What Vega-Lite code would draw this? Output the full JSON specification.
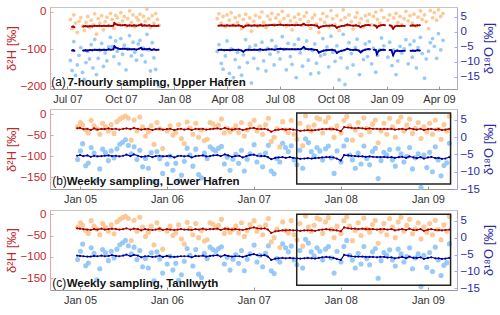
{
"$schema":"https://vega.github.io/schema/vega-lite/v6.json",
"padding":{"left":4,"top":5,"right":4,"bottom":0},
"spacing":2,
"config":{"view":{"stroke":"#c4c4c4"},"axis":{"grid":false,"labelFont":"Liberation Sans","titleFont":"Liberation Sans","titleFontWeight":"normal"},"text":{"font":"Liberation Sans"}},
"datasets":{
"ra":[
{"d":"2007-07-06","h":-20,"o":-9.5},{"d":"2007-07-09","h":-45,"o":-12.8},{"d":"2007-07-12","h":-8,"o":-3.2},{"d":"2007-07-15","h":-30,"o":-14.5},{"d":"2007-07-18","h":-55,"o":-11.0},{"d":"2007-07-21","h":-25,"o":-7.8},{"d":"2007-07-24","h":-15,"o":-5.2},{"d":"2007-07-27","h":-38,"o":-13.5},{"d":"2007-07-30","h":-50,"o":-15.8},{"d":"2007-08-02","h":-28,"o":-10.2},{"d":"2007-08-05","h":-12,"o":-6.5},{"d":"2007-08-08","h":-42,"o":-9.0},{"d":"2007-08-11","h":-22,"o":-4.2},{"d":"2007-08-14","h":-35,"o":-12.0},{"d":"2007-08-17","h":-5,"o":-2.5},{"d":"2007-08-20","h":-60,"o":-14.2},{"d":"2007-08-23","h":-18,"o":-8.8},{"d":"2007-08-26","h":-30,"o":-6.2},{"d":"2007-08-29","h":-10,"o":-3.8},{"d":"2007-09-01","h":-48,"o":-11.5},{"d":"2007-09-04","h":-26,"o":-7.0},{"d":"2007-09-07","h":-14,"o":-9.6},{"d":"2007-09-10","h":-36,"o":-5.0},{"d":"2007-09-13","h":-4,"o":-1.8},{"d":"2007-09-16","h":-20,"o":-4.8},{"d":"2007-09-19","h":-44,"o":-8.2},{"d":"2007-09-22","h":-9,"o":-3.0},{"d":"2007-09-25","h":-16,"o":-6.4},{"d":"2007-09-28","h":-32,"o":-10.6},{"d":"2007-10-01","h":-2,"o":-2.2},{"d":"2007-10-04","h":-24,"o":-7.4},{"d":"2007-10-07","h":-12,"o":-4.4},{"d":"2007-10-10","h":-38,"o":-12.6},{"d":"2007-10-13","h":-18,"o":-5.6},{"d":"2007-10-16","h":3,"o":-1.2},{"d":"2007-10-19","h":-28,"o":-8.0},{"d":"2007-10-22","h":-8,"o":-3.4},{"d":"2007-10-25","h":-40,"o":-6.8},{"d":"2007-10-28","h":-15,"o":-9.4},{"d":"2007-10-31","h":-22,"o":-4.0},{"d":"2007-11-03","h":-6,"o":-2.8},{"d":"2007-11-06","h":-34,"o":-7.8},{"d":"2007-11-09","h":-12,"o":-5.4},{"d":"2007-11-12","h":-25,"o":-10.0},{"d":"2007-11-15","h":8,"o":-0.8},{"d":"2007-11-18","h":-18,"o":-6.0},{"d":"2007-11-21","h":-42,"o":-13.0},{"d":"2007-11-24","h":-10,"o":-3.6},{"d":"2007-11-27","h":-30,"o":-8.6},{"d":"2007-11-30","h":-4,"o":-12.5},{"d":"2007-12-03","h":-20,"o":-16.8},{"d":"2007-12-06","h":-36,"o":-18.0},
{"d":"2008-03-15","h":-18,"o":-6.5},{"d":"2008-03-18","h":-5,"o":-4.2},{"d":"2008-03-22","h":-30,"o":-10.5},{"d":"2008-03-25","h":-12,"o":-12.4},{"d":"2008-03-29","h":-40,"o":-8.0},{"d":"2008-04-01","h":-8,"o":-3.0},{"d":"2008-04-05","h":-22,"o":-13.8},{"d":"2008-04-08","h":-2,"o":-5.6},{"d":"2008-04-12","h":-35,"o":-15.2},{"d":"2008-04-15","h":-15,"o":-9.2},{"d":"2008-04-19","h":-28,"o":-6.8},{"d":"2008-04-22","h":-10,"o":-11.8},{"d":"2008-04-26","h":-45,"o":-14.4},{"d":"2008-04-29","h":-20,"o":-7.6},{"d":"2008-05-03","h":-6,"o":-2.6},{"d":"2008-05-06","h":-32,"o":-10.2},{"d":"2008-05-10","h":-16,"o":-5.0},{"d":"2008-05-13","h":-52,"o":-17.0},{"d":"2008-05-17","h":-25,"o":-8.8},{"d":"2008-05-20","h":-9,"o":-4.4},{"d":"2008-05-24","h":-38,"o":-12.2},{"d":"2008-05-27","h":-14,"o":-6.2},{"d":"2008-05-31","h":0,"o":-3.4},{"d":"2008-06-03","h":-28,"o":-9.6},{"d":"2008-06-07","h":-42,"o":-13.0},{"d":"2008-06-10","h":-11,"o":-5.4},{"d":"2008-06-14","h":-20,"o":-7.4},{"d":"2008-06-17","h":-4,"o":-2.8},{"d":"2008-06-21","h":-34,"o":-11.0},{"d":"2008-06-24","h":-16,"o":-4.8},{"d":"2008-06-28","h":-7,"o":-6.6},{"d":"2008-07-01","h":-26,"o":-9.0},{"d":"2008-07-05","h":2,"o":-1.6},{"d":"2008-07-08","h":-18,"o":-5.8},{"d":"2008-07-12","h":-38,"o":-12.6},{"d":"2008-07-15","h":-10,"o":-3.8},{"d":"2008-07-19","h":-24,"o":-8.2},{"d":"2008-07-22","h":-48,"o":-10.8},{"d":"2008-07-26","h":-14,"o":-4.2},{"d":"2008-07-29","h":-30,"o":-15.2},{"d":"2008-08-02","h":-6,"o":-2.4},{"d":"2008-08-05","h":-20,"o":-7.0},{"d":"2008-08-09","h":-36,"o":-11.4},{"d":"2008-08-12","h":-12,"o":-5.6},{"d":"2008-08-16","h":-2,"o":-3.0},{"d":"2008-08-19","h":-26,"o":-9.4},{"d":"2008-08-23","h":-44,"o":-14.0},{"d":"2008-08-26","h":-16,"o":-6.2},{"d":"2008-08-30","h":-8,"o":-4.0},{"d":"2008-09-02","h":-32,"o":-10.4},{"d":"2008-09-06","h":-55,"o":-13.6},{"d":"2008-09-09","h":-20,"o":-8.0},{"d":"2008-09-13","h":-4,"o":-2.2},{"d":"2008-09-16","h":-28,"o":-7.4},{"d":"2008-09-20","h":-12,"o":-5.0},{"d":"2008-09-23","h":-40,"o":-11.6},{"d":"2008-09-27","h":4,"o":-1.4},{"d":"2008-09-30","h":-18,"o":-6.8},{"d":"2008-10-04","h":-34,"o":-9.8},{"d":"2008-10-07","h":-10,"o":-4.6},{"d":"2008-10-11","h":-50,"o":-16.0},{"d":"2008-10-14","h":-22,"o":-8.6},{"d":"2008-10-18","h":6,"o":-0.8},{"d":"2008-10-21","h":-15,"o":-17.5},{"d":"2008-10-25","h":-36,"o":-12.0},{"d":"2008-10-28","h":-8,"o":-3.6},{"d":"2008-11-01","h":-26,"o":-7.2},{"d":"2008-11-04","h":-46,"o":-11.0},{"d":"2008-11-08","h":-14,"o":-5.2},{"d":"2008-11-11","h":-2,"o":-2.4},{"d":"2008-11-15","h":-30,"o":-14.2},{"d":"2008-11-18","h":-18,"o":-6.6},{"d":"2008-11-22","h":-40,"o":-9.2},{"d":"2008-11-25","h":-10,"o":-4.0},{"d":"2008-11-29","h":-24,"o":-8.2},{"d":"2008-12-02","h":-6,"o":-3.2},{"d":"2008-12-06","h":-35,"o":-10.6},{"d":"2008-12-09","h":-12,"o":-5.4},{"d":"2008-12-13","h":0,"o":-13.4},{"d":"2008-12-16","h":-20,"o":-7.8},{"d":"2008-12-20","h":-30,"o":-6.0},{"d":"2008-12-23","h":5,"o":-2.0},{"d":"2008-12-27","h":-15,"o":-4.6},{"d":"2009-01-03","h":-22,"o":-8.4},{"d":"2009-01-06","h":-8,"o":-3.4},{"d":"2009-01-10","h":-40,"o":-11.2},{"d":"2009-01-13","h":-16,"o":-6.0},{"d":"2009-01-17","h":-4,"o":-14.2},{"d":"2009-01-20","h":-28,"o":-9.6},{"d":"2009-01-24","h":-12,"o":-4.8},{"d":"2009-01-27","h":-34,"o":-7.0},{"d":"2009-01-31","h":-18,"o":-5.6},{"d":"2009-02-03","h":2,"o":-2.6},{"d":"2009-02-07","h":-24,"o":-10.6},{"d":"2009-02-10","h":-10,"o":-4.2},{"d":"2009-02-14","h":-30,"o":-8.4},{"d":"2009-02-17","h":-6,"o":-3.0},{"d":"2009-02-21","h":-38,"o":-12.0},{"d":"2009-02-24","h":-14,"o":-5.2},{"d":"2009-02-28","h":3,"o":-1.8},{"d":"2009-03-03","h":-20,"o":-7.2},{"d":"2009-03-07","h":-8,"o":-15.4},{"d":"2009-03-10","h":-26,"o":-9.0},{"d":"2009-03-14","h":-45,"o":-6.4},{"d":"2009-03-17","h":4,"o":-3.6},{"d":"2009-03-21","h":-16,"o":-2.2},{"d":"2009-03-24","h":-2,"o":-4.8},{"d":"2009-03-28","h":-22,"o":-8.8},{"d":"2009-03-31","h":6,"o":-0.6},{"d":"2009-04-04","h":-12,"o":-6.0},{"d":"2009-04-08","h":-4,"o":-2.8}
],
"la":[
{"d":"2007-07-09","h":-40,"o":-6.2,"s":0},{"d":"2007-07-11","h":-39,"o":-6.1,"s":0},{"d":"2007-07-13","h":-41,"o":-6.3,"s":0},
{"d":"2007-07-28","h":-39,"o":-6.2,"s":1},{"d":"2007-08-01","h":-38,"o":-6.1,"s":1},{"d":"2007-08-05","h":-39,"o":-6.2,"s":1},{"d":"2007-08-09","h":-38,"o":-6.0,"s":1},{"d":"2007-08-13","h":-39,"o":-6.1,"s":1},{"d":"2007-08-17","h":-37,"o":-5.9,"s":1},{"d":"2007-08-21","h":-38,"o":-6.0,"s":1},{"d":"2007-08-25","h":-37,"o":-5.9,"s":1},{"d":"2007-08-29","h":-38,"o":-6.0,"s":1},{"d":"2007-09-02","h":-37,"o":-5.9,"s":1},{"d":"2007-09-06","h":-38,"o":-6.0,"s":1},{"d":"2007-09-10","h":-37,"o":-5.8,"s":1},{"d":"2007-09-14","h":-38,"o":-5.9,"s":1},{"d":"2007-09-18","h":-37,"o":-5.8,"s":1},{"d":"2007-09-20","h":-30,"o":-4.8,"s":1},{"d":"2007-09-22","h":-33,"o":-5.2,"s":1},{"d":"2007-09-26","h":-35,"o":-5.5,"s":1},{"d":"2007-09-30","h":-36,"o":-5.7,"s":1},{"d":"2007-10-04","h":-36,"o":-5.6,"s":1},{"d":"2007-10-08","h":-35,"o":-5.6,"s":1},{"d":"2007-10-12","h":-37,"o":-5.8,"s":1},{"d":"2007-10-16","h":-36,"o":-5.7,"s":1},{"d":"2007-10-20","h":-37,"o":-5.8,"s":1},{"d":"2007-10-24","h":-36,"o":-5.7,"s":1},{"d":"2007-10-28","h":-37,"o":-5.9,"s":1},{"d":"2007-11-01","h":-36,"o":-5.6,"s":1},{"d":"2007-11-05","h":-34,"o":-5.3,"s":1},{"d":"2007-11-07","h":-37,"o":-5.8,"s":1},{"d":"2007-11-11","h":-36,"o":-5.7,"s":1},{"d":"2007-11-15","h":-37,"o":-5.8,"s":1},{"d":"2007-11-19","h":-36,"o":-5.6,"s":1},{"d":"2007-11-23","h":-38,"o":-6.0,"s":1},{"d":"2007-11-27","h":-37,"o":-5.8,"s":1},{"d":"2007-12-01","h":-38,"o":-6.0,"s":1},{"d":"2007-12-05","h":-37,"o":-5.9,"s":1},
{"d":"2008-03-17","h":-37,"o":-6.0,"s":2},{"d":"2008-03-22","h":-36,"o":-5.9,"s":2},{"d":"2008-03-27","h":-37,"o":-6.1,"s":2},{"d":"2008-04-01","h":-36,"o":-6.0,"s":2},{"d":"2008-04-06","h":-37,"o":-6.1,"s":2},{"d":"2008-04-11","h":-36,"o":-5.9,"s":2},{"d":"2008-04-16","h":-37,"o":-6.0,"s":2},{"d":"2008-04-21","h":-36,"o":-5.9,"s":2},{"d":"2008-04-26","h":-38,"o":-6.2,"s":2},{"d":"2008-04-29","h":-41,"o":-6.6,"s":2},{"d":"2008-05-03","h":-37,"o":-6.0,"s":2},{"d":"2008-05-08","h":-36,"o":-5.9,"s":2},{"d":"2008-05-13","h":-37,"o":-6.0,"s":2},{"d":"2008-05-18","h":-36,"o":-5.9,"s":2},{"d":"2008-05-23","h":-37,"o":-6.0,"s":2},{"d":"2008-05-28","h":-36,"o":-5.8,"s":2},{"d":"2008-06-02","h":-37,"o":-6.0,"s":2},{"d":"2008-06-07","h":-36,"o":-5.9,"s":2},{"d":"2008-06-12","h":-36,"o":-5.8,"s":2},{"d":"2008-06-17","h":-35,"o":-5.8,"s":2},{"d":"2008-06-22","h":-36,"o":-5.9,"s":2},{"d":"2008-06-27","h":-35,"o":-5.7,"s":2},{"d":"2008-07-02","h":-34,"o":-5.6,"s":2},{"d":"2008-07-07","h":-36,"o":-5.8,"s":2},{"d":"2008-07-12","h":-35,"o":-5.7,"s":2},{"d":"2008-07-17","h":-36,"o":-5.8,"s":2},{"d":"2008-07-22","h":-35,"o":-5.7,"s":2},{"d":"2008-07-27","h":-36,"o":-5.8,"s":2},{"d":"2008-08-01","h":-35,"o":-5.7,"s":2},{"d":"2008-08-06","h":-36,"o":-5.8,"s":2},{"d":"2008-08-11","h":-32,"o":-5.0,"s":2},{"d":"2008-08-14","h":-35,"o":-5.6,"s":2},{"d":"2008-08-19","h":-36,"o":-5.8,"s":2},{"d":"2008-08-24","h":-35,"o":-5.7,"s":2},{"d":"2008-08-29","h":-36,"o":-5.9,"s":2},{"d":"2008-09-03","h":-37,"o":-6.0,"s":2},{"d":"2008-09-06","h":-43,"o":-6.9,"s":2},{"d":"2008-09-09","h":-40,"o":-6.6,"s":2},{"d":"2008-09-14","h":-38,"o":-6.2,"s":2},{"d":"2008-09-19","h":-37,"o":-6.1,"s":2},{"d":"2008-09-24","h":-37,"o":-6.0,"s":2},{"d":"2008-09-29","h":-36,"o":-5.9,"s":2},{"d":"2008-10-04","h":-38,"o":-6.2,"s":2},{"d":"2008-10-07","h":-43,"o":-7.0,"s":2},{"d":"2008-10-10","h":-40,"o":-6.6,"s":2},{"d":"2008-10-15","h":-38,"o":-6.3,"s":2},{"d":"2008-10-20","h":-37,"o":-6.1,"s":2},{"d":"2008-10-25","h":-34,"o":-5.6,"s":2},{"d":"2008-10-30","h":-36,"o":-5.9,"s":2},{"d":"2008-11-04","h":-37,"o":-6.0,"s":2},{"d":"2008-11-09","h":-36,"o":-5.9,"s":2},{"d":"2008-11-14","h":-38,"o":-6.2,"s":2},{"d":"2008-11-17","h":-41,"o":-6.8,"s":2},{"d":"2008-11-20","h":-38,"o":-6.3,"s":2},{"d":"2008-11-25","h":-36,"o":-5.9,"s":2},{"d":"2008-11-30","h":-35,"o":-5.7,"s":2},{"d":"2008-12-03","h":-36,"o":-5.8,"s":2},
{"d":"2008-12-10","h":-36,"o":-5.9,"s":3},{"d":"2008-12-13","h":-37,"o":-6.0,"s":3},{"d":"2008-12-15","h":-42,"o":-7.4,"s":3},{"d":"2008-12-18","h":-38,"o":-6.3,"s":3},{"d":"2008-12-22","h":-36,"o":-6.0,"s":3},{"d":"2008-12-26","h":-35,"o":-5.9,"s":3},{"d":"2008-12-29","h":-36,"o":-6.0,"s":3},
{"d":"2009-01-06","h":-36,"o":-6.0,"s":4},{"d":"2009-01-09","h":-37,"o":-6.1,"s":4},{"d":"2009-01-12","h":-45,"o":-7.8,"s":4},{"d":"2009-01-15","h":-39,"o":-6.5,"s":4},{"d":"2009-01-19","h":-37,"o":-6.2,"s":4},{"d":"2009-01-23","h":-38,"o":-6.4,"s":4},{"d":"2009-01-27","h":-37,"o":-6.3,"s":4},{"d":"2009-02-01","h":-38,"o":-6.3,"s":4},
{"d":"2009-02-11","h":-37,"o":-6.3,"s":5},{"d":"2009-02-15","h":-36,"o":-6.2,"s":5},{"d":"2009-02-19","h":-37,"o":-6.3,"s":5},{"d":"2009-02-23","h":-36,"o":-6.1,"s":5},{"d":"2009-02-27","h":-36,"o":-6.2,"s":5}
],
"rw":[
{"d":"2004-12-22","h":-30,"o":-6.5},{"d":"2005-01-03","h":-20,"o":-4.0},{"d":"2005-01-12","h":-26,"o":-1.9},{"d":"2005-01-25","h":-38,"o":-8.3},{"d":"2005-02-05","h":-45,"o":-7.5},{"d":"2005-02-17","h":-15,"o":-3.0},{"d":"2005-03-01","h":-28,"o":-4.6},{"d":"2005-03-13","h":-35,"o":-12.5},{"d":"2005-03-25","h":-48,"o":-9.2},{"d":"2005-04-06","h":-22,"o":-3.5},{"d":"2005-04-18","h":-30,"o":-4.5},{"d":"2005-04-30","h":-40,"o":-6.8},{"d":"2005-05-12","h":-25,"o":-4.0},{"d":"2005-05-24","h":-46,"o":-6.0},{"d":"2005-06-05","h":-18,"o":-3.4},{"d":"2005-06-17","h":-12,"o":-2.1},{"d":"2005-06-29","h":-8,"o":-1.5},{"d":"2005-07-11","h":-5,"o":-0.8},{"d":"2005-07-23","h":-10,"o":-2.4},{"d":"2005-08-04","h":-62,"o":-4.8},{"d":"2005-08-16","h":-14,"o":-2.8},{"d":"2005-08-28","h":-40,"o":-6.5},{"d":"2005-09-09","h":-7,"o":-3.8},{"d":"2005-09-21","h":-30,"o":-8.6},{"d":"2005-10-03","h":-52,"o":-6.2},{"d":"2005-10-15","h":-42,"o":-9.0},{"d":"2005-10-27","h":-28,"o":-4.5},{"d":"2005-11-08","h":-72,"o":-12.8},{"d":"2005-11-20","h":-20,"o":-4.2},{"d":"2005-12-02","h":-35,"o":-6.3},{"d":"2005-12-14","h":-82,"o":-10.5},{"d":"2006-01-02","h":-40,"o":-7.8},{"d":"2006-01-14","h":-28,"o":-5.5},{"d":"2006-01-26","h":-50,"o":-9.6},{"d":"2006-02-07","h":-44,"o":-7.6},{"d":"2006-02-19","h":-25,"o":-12.6},{"d":"2006-03-03","h":-58,"o":-11.0},{"d":"2006-03-15","h":-70,"o":-7.0},{"d":"2006-03-27","h":-19,"o":-3.2},{"d":"2006-04-08","h":-33,"o":-5.2},{"d":"2006-04-20","h":-48,"o":-8.4},{"d":"2006-05-02","h":-22,"o":-3.5},{"d":"2006-05-14","h":-55,"o":-10.8},{"d":"2006-05-26","h":-38,"o":-11.8},{"d":"2006-06-07","h":-63,"o":-4.6},{"d":"2006-06-19","h":-60,"o":-6.2},{"d":"2006-07-01","h":-20,"o":-2.8},{"d":"2006-07-13","h":-23,"o":-3.5},{"d":"2006-07-25","h":-30,"o":-4.0},{"d":"2006-08-06","h":-26,"o":-3.2},{"d":"2006-08-18","h":-12,"o":-2.7},{"d":"2006-08-30","h":-45,"o":-7.8},{"d":"2006-09-11","h":-34,"o":-5.8},{"d":"2006-09-23","h":-42,"o":-9.6},{"d":"2006-10-05","h":-36,"o":-6.4},{"d":"2006-10-17","h":-28,"o":-5.0},{"d":"2006-10-29","h":-44,"o":-7.6},{"d":"2006-11-10","h":-20,"o":-3.8},{"d":"2006-11-22","h":-52,"o":-9.8},{"d":"2006-12-04","h":-38,"o":-6.4},{"d":"2006-12-16","h":-24,"o":-4.8},{"d":"2007-01-02","h":-15,"o":-2.2},{"d":"2007-01-14","h":-40,"o":-7.2},{"d":"2007-01-26","h":-30,"o":-5.2},{"d":"2007-02-07","h":-48,"o":-8.6},{"d":"2007-02-19","h":-25,"o":-4.6},{"d":"2007-03-03","h":-10,"o":-2.4},{"d":"2007-03-15","h":-65,"o":-9.8},{"d":"2007-03-27","h":-55,"o":-10.6},{"d":"2007-04-08","h":-35,"o":-6.2},{"d":"2007-04-20","h":-78,"o":-7.2},{"d":"2007-05-02","h":-18,"o":-1.8},{"d":"2007-05-14","h":-38,"o":-3.0},{"d":"2007-05-26","h":-44,"o":-4.2},{"d":"2007-06-07","h":-15,"o":-2.5},{"d":"2007-06-19","h":-48,"o":-6.6},{"d":"2007-07-01","h":-60,"o":-8.0},{"d":"2007-07-13","h":-22,"o":-3.8},{"d":"2007-07-25","h":-75,"o":-9.0},{"d":"2007-08-06","h":-4,"o":-0.5},{"d":"2007-08-18","h":-30,"o":-1.6},{"d":"2007-08-30","h":-40,"o":-4.2},{"d":"2007-09-11","h":-26,"o":-5.4},{"d":"2007-09-23","h":-9,"o":-3.0},{"d":"2007-10-05","h":-12,"o":-4.0},{"d":"2007-10-17","h":-45,"o":-6.6},{"d":"2007-10-29","h":-18,"o":-3.4},{"d":"2007-11-10","h":-8,"o":-2.6},{"d":"2007-11-22","h":-35,"o":-6.0},{"d":"2007-12-04","h":-55,"o":-10.5},{"d":"2007-12-16","h":-28,"o":-4.0},{"d":"2008-01-02","h":-45,"o":-7.2},{"d":"2008-01-14","h":-15,"o":-2.6},{"d":"2008-01-26","h":-6,"o":-0.8},{"d":"2008-02-07","h":-28,"o":-5.2},{"d":"2008-02-19","h":-62,"o":-6.6},{"d":"2008-03-02","h":-38,"o":-9.0},{"d":"2008-03-14","h":-20,"o":-4.6},{"d":"2008-03-26","h":-50,"o":-7.8},{"d":"2008-04-07","h":-9,"o":-2.6},{"d":"2008-04-19","h":-34,"o":-6.2},{"d":"2008-05-01","h":-42,"o":-8.0},{"d":"2008-05-13","h":-24,"o":-4.2},{"d":"2008-05-25","h":-14,"o":-3.2},{"d":"2008-06-06","h":-68,"o":-12.0},{"d":"2008-06-18","h":-40,"o":-6.8},{"d":"2008-06-30","h":-22,"o":-4.4},{"d":"2008-07-12","h":-48,"o":-5.2},{"d":"2008-07-24","h":-10,"o":-3.6},{"d":"2008-08-05","h":-30,"o":-6.6},{"d":"2008-08-17","h":-55,"o":-8.4},{"d":"2008-08-29","h":-18,"o":-3.4},{"d":"2008-09-10","h":-7,"o":-4.8},{"d":"2008-09-22","h":-40,"o":-7.2},{"d":"2008-10-04","h":-26,"o":-5.6},{"d":"2008-10-16","h":-12,"o":-3.0},{"d":"2008-10-28","h":-46,"o":-9.2},{"d":"2008-11-09","h":-34,"o":-6.0},{"d":"2008-11-21","h":-20,"o":-4.8},{"d":"2008-12-03","h":-58,"o":-14.5},{"d":"2008-12-15","h":-30,"o":-5.2},{"d":"2008-12-27","h":-42,"o":-8.8},{"d":"2009-01-08","h":-22,"o":-4.4},{"d":"2009-01-20","h":-48,"o":-10.0},{"d":"2009-02-01","h":-14,"o":-2.8},{"d":"2009-02-13","h":-36,"o":-6.6},{"d":"2009-02-25","h":-60,"o":-11.2},{"d":"2009-03-09","h":-25,"o":-8.2},{"d":"2009-03-21","h":-40,"o":-7.4},{"d":"2009-04-01","h":-5,"o":-1.8}
],
"lw":[
{"d":"2004-12-20","hb":-34,"ob":-5.4,"hc":-33,"oc":-5.3},{"d":"2005-01-01","hb":-33,"ob":-5.2,"hc":-34,"oc":-5.4},{"d":"2005-01-15","hb":-36,"ob":-5.5,"hc":-35,"oc":-5.5},{"d":"2005-02-01","hb":-35,"ob":-5.3,"hc":-36,"oc":-5.6},{"d":"2005-02-15","hb":-38,"ob":-5.7,"hc":-37,"oc":-5.6},{"d":"2005-03-01","hb":-34,"ob":-5.4,"hc":-35,"oc":-5.4},{"d":"2005-03-15","hb":-37,"ob":-5.6,"hc":-36,"oc":-5.5},{"d":"2005-04-01","hb":-35,"ob":-5.5,"hc":-34,"oc":-5.3},{"d":"2005-04-15","hb":-36,"ob":-5.4,"hc":-36,"oc":-5.5},{"d":"2005-05-01","hb":-34,"ob":-5.3,"hc":-35,"oc":-5.4},{"d":"2005-05-15","hb":-36,"ob":-5.5,"hc":-34,"oc":-5.2},{"d":"2005-06-01","hb":-35,"ob":-5.4,"hc":-35,"oc":-5.4},{"d":"2005-06-15","hb":-37,"ob":-5.6,"hc":-36,"oc":-5.5},{"d":"2005-07-01","hb":-35,"ob":-5.4,"hc":-35,"oc":-5.3},{"d":"2005-07-15","hb":-34,"ob":-5.1,"hc":-33,"oc":-5.0},{"d":"2005-08-01","hb":-36,"ob":-5.5,"hc":-36,"oc":-5.5},{"d":"2005-08-15","hb":-33,"ob":-5.0,"hc":-34,"oc":-5.1},{"d":"2005-09-01","hb":-35,"ob":-5.4,"hc":-35,"oc":-5.3},{"d":"2005-09-15","hb":-37,"ob":-5.7,"hc":-38,"oc":-5.8},{"d":"2005-10-01","hb":-36,"ob":-5.6,"hc":-35,"oc":-5.5},{"d":"2005-10-15","hb":-35,"ob":-5.4,"hc":-36,"oc":-5.5},{"d":"2005-11-01","hb":-38,"ob":-5.8,"hc":-37,"oc":-5.7},{"d":"2005-11-15","hb":-36,"ob":-5.5,"hc":-36,"oc":-5.6},{"d":"2005-12-01","hb":-35,"ob":-5.4,"hc":-34,"oc":-5.3},{"d":"2005-12-15","hb":-37,"ob":-5.6,"hc":-37,"oc":-5.7},
{"d":"2006-01-01","hb":-36,"ob":-5.5,"hc":-35,"oc":-5.4},{"d":"2006-01-15","hb":-35,"ob":-5.4,"hc":-36,"oc":-5.6},{"d":"2006-02-01","hb":-38,"ob":-5.9,"hc":-37,"oc":-5.7},{"d":"2006-02-15","hb":-36,"ob":-5.5,"hc":-36,"oc":-5.6},{"d":"2006-03-01","hb":-35,"ob":-5.4,"hc":-35,"oc":-5.5},{"d":"2006-03-15","hb":-37,"ob":-5.6,"hc":-36,"oc":-5.5},{"d":"2006-04-01","hb":-35,"ob":-5.4,"hc":-36,"oc":-5.5},{"d":"2006-04-15","hb":-38,"ob":-5.9,"hc":-37,"oc":-5.8},{"d":"2006-05-01","hb":-35,"ob":-5.5,"hc":-35,"oc":-5.4},{"d":"2006-05-15","hb":-36,"ob":-5.4,"hc":-36,"oc":-5.5},{"d":"2006-06-01","hb":-35,"ob":-5.3,"hc":-34,"oc":-5.3},{"d":"2006-06-15","hb":-37,"ob":-5.6,"hc":-36,"oc":-5.6},{"d":"2006-07-01","hb":-36,"ob":-5.5,"hc":-35,"oc":-5.4},{"d":"2006-07-15","hb":-35,"ob":-5.3,"hc":-35,"oc":-5.3},{"d":"2006-08-01","hb":-34,"ob":-5.2,"hc":-34,"oc":-5.2},{"d":"2006-08-15","hb":-36,"ob":-5.5,"hc":-37,"oc":-5.6},{"d":"2006-09-01","hb":-33,"ob":-5.0,"hc":-34,"oc":-5.2},{"d":"2006-09-15","hb":-35,"ob":-5.3,"hc":-35,"oc":-5.4},{"d":"2006-10-01","hb":-37,"ob":-5.7,"hc":-36,"oc":-5.6},{"d":"2006-10-15","hb":-36,"ob":-5.5,"hc":-35,"oc":-5.5},{"d":"2006-11-01","hb":-35,"ob":-5.4,"hc":-36,"oc":-5.5},{"d":"2006-11-15","hb":-38,"ob":-5.9,"hc":-37,"oc":-5.7},{"d":"2006-12-01","hb":-36,"ob":-5.5,"hc":-35,"oc":-5.4},{"d":"2006-12-15","hb":-34,"ob":-5.2,"hc":-33,"oc":-5.1},
{"d":"2007-01-01","hb":-33,"ob":-5.1,"hc":-31,"oc":-4.9},{"d":"2007-01-15","hb":-35,"ob":-5.4,"hc":-33,"oc":-5.2},{"d":"2007-02-01","hb":-36,"ob":-5.5,"hc":-34,"oc":-5.3},{"d":"2007-02-15","hb":-35,"ob":-5.5,"hc":-33,"oc":-5.2},{"d":"2007-03-01","hb":-37,"ob":-5.8,"hc":-36,"oc":-5.6},{"d":"2007-03-15","hb":-42,"ob":-6.4,"hc":-44,"oc":-6.6},{"d":"2007-04-01","hb":-38,"ob":-6.0,"hc":-40,"oc":-6.2},{"d":"2007-04-15","hb":-37,"ob":-5.9,"hc":-39,"oc":-6.1},{"d":"2007-05-01","hb":-36,"ob":-5.8,"hc":-38,"oc":-6.0},{"d":"2007-05-15","hb":-37,"ob":-6.0,"hc":-38,"oc":-6.1},{"d":"2007-06-01","hb":-36,"ob":-5.8,"hc":-37,"oc":-6.0},{"d":"2007-06-15","hb":-37,"ob":-6.0,"hc":-38,"oc":-6.1},{"d":"2007-07-01","hb":-38,"ob":-6.1,"hc":-38,"oc":-6.1},{"d":"2007-07-15","hb":-40,"ob":-6.3,"hc":-39,"oc":-6.2},{"d":"2007-08-01","hb":-39,"ob":-6.2,"hc":-38,"oc":-6.1},{"d":"2007-08-15","hb":-38,"ob":-6.1,"hc":-38,"oc":-6.0},{"d":"2007-09-01","hb":-39,"ob":-6.2,"hc":-38,"oc":-6.1},{"d":"2007-09-15","hb":-38,"ob":-6.1,"hc":-39,"oc":-6.2},{"d":"2007-10-01","hb":-37,"ob":-6.0,"hc":-37,"oc":-6.0},{"d":"2007-10-15","hb":-36,"ob":-5.9,"hc":-36,"oc":-5.8},{"d":"2007-11-01","hb":-36,"ob":-5.8,"hc":-35,"oc":-5.7},{"d":"2007-11-15","hb":-35,"ob":-5.8,"hc":-36,"oc":-5.8},{"d":"2007-12-01","hb":-36,"ob":-5.9,"hc":-37,"oc":-6.0},{"d":"2007-12-15","hb":-37,"ob":-6.2,"hc":-38,"oc":-6.3},
{"d":"2008-01-01","hb":-41,"ob":-6.8,"hc":-40,"oc":-6.6},{"d":"2008-01-15","hb":-31,"ob":-5.2,"hc":-31,"oc":-5.1},{"d":"2008-02-01","hb":-32,"ob":-5.3,"hc":-33,"oc":-5.3},{"d":"2008-02-15","hb":-33,"ob":-5.4,"hc":-34,"oc":-5.5},{"d":"2008-03-01","hb":-34,"ob":-5.5,"hc":-34,"oc":-5.6},{"d":"2008-03-15","hb":-33,"ob":-5.6,"hc":-35,"oc":-5.6},{"d":"2008-04-01","hb":-34,"ob":-5.6,"hc":-34,"oc":-5.6},{"d":"2008-04-15","hb":-35,"ob":-5.7,"hc":-35,"oc":-5.7},{"d":"2008-05-01","hb":-34,"ob":-5.6,"hc":-35,"oc":-5.7},{"d":"2008-05-15","hb":-35,"ob":-5.7,"hc":-35,"oc":-5.7},{"d":"2008-06-01","hb":-35,"ob":-5.8,"hc":-36,"oc":-5.8},{"d":"2008-06-15","hb":-36,"ob":-5.8,"hc":-35,"oc":-5.7},{"d":"2008-07-01","hb":-35,"ob":-5.7,"hc":-35,"oc":-5.7},{"d":"2008-07-15","hb":-36,"ob":-5.9,"hc":-36,"oc":-5.9},{"d":"2008-08-01","hb":-35,"ob":-5.8,"hc":-35,"oc":-5.8},{"d":"2008-08-15","hb":-37,"ob":-6.0,"hc":-38,"oc":-6.1},{"d":"2008-09-01","hb":-36,"ob":-5.8,"hc":-36,"oc":-5.9},{"d":"2008-09-15","hb":-35,"ob":-5.7,"hc":-35,"oc":-5.7},{"d":"2008-10-01","hb":-37,"ob":-6.0,"hc":-37,"oc":-6.1},{"d":"2008-10-15","hb":-34,"ob":-5.6,"hc":-34,"oc":-5.6},{"d":"2008-11-01","hb":-36,"ob":-5.9,"hc":-37,"oc":-6.0},{"d":"2008-11-15","hb":-37,"ob":-6.1,"hc":-37,"oc":-6.0},{"d":"2008-12-01","hb":-35,"ob":-5.8,"hc":-35,"oc":-5.8},{"d":"2008-12-15","hb":-38,"ob":-6.2,"hc":-39,"oc":-6.3},
{"d":"2009-01-01","hb":-36,"ob":-5.9,"hc":-36,"oc":-6.0},{"d":"2009-01-15","hb":-35,"ob":-5.7,"hc":-35,"oc":-5.8},{"d":"2009-02-01","hb":-37,"ob":-6.1,"hc":-37,"oc":-6.1},{"d":"2009-02-15","hb":-36,"ob":-6.0,"hc":-37,"oc":-6.1},{"d":"2009-03-01","hb":-38,"ob":-6.3,"hc":-38,"oc":-6.3},{"d":"2009-03-15","hb":-37,"ob":-6.2,"hc":-37,"oc":-6.2},{"d":"2009-04-01","hb":-35,"ob":-5.8,"hc":-36,"oc":-6.0}
],
"box":[{"d1":"2007-06-30","d2":"2009-04-06","y1b":2.3,"y2b":-166,"y1c":0,"y2c":-167}],
"lab":[
{"p":"a","d1":"2007-06-03","d2":"2007-07-01","y":-200,"k":"(a)","t":"7-hourly sampling, Upper Hafren"},
{"p":"b","d1":"2004-09-06","d2":"2004-11-06","y":-168,"k":"(b)","t":"Weekly sampling, Lower Hafren"},
{"p":"c","d1":"2004-09-06","d2":"2004-11-06","y":-170,"k":"(c)","t":"Weekly sampling, Tanllwyth"}
]
},
"vconcat":[
{
"width":407,"height":82,
"resolve":{"scale":{"y":"independent"}},
"layer":[
{"data":{"name":"ra"},"mark":{"type":"circle","size":14,"color":"#fdc48c","opacity":0.9},
"encoding":{"x":{"field":"d","type":"temporal","title":null,"scale":{"domain":[{"year":2007,"month":6,"date":1},{"year":2009,"month":5,"date":2}]},"axis":{"format":"%b %y","labelFontSize":11,"labelColor":"#333","domainColor":"#999","tickColor":"#999","tickSize":-3,"labelPadding":7}},
"y":{"field":"h","type":"quantitative","scale":{"domain":[-208,13.5],"nice":false,"zero":false},"axis":{"values":[0,-100,-200],"title":"δ²H [‰]","titleColor":"#c0282a","labelColor":"#c0282a","domainColor":"#eaa4a4","tickColor":"#eaa4a4","labelFontSize":11.5,"titleFontSize":13,"tickSize":-3,"labelPadding":7,"titlePadding":2}}}},
{"data":{"name":"ra"},"mark":{"type":"circle","size":14,"color":"#8cc4f7","opacity":0.9},
"encoding":{"x":{"field":"d","type":"temporal","title":null,"scale":{"domain":[{"year":2007,"month":6,"date":1},{"year":2009,"month":5,"date":2}]},"axis":{"format":"%b %y","labelFontSize":11,"labelColor":"#333","domainColor":"#999","tickColor":"#999","tickSize":-3,"labelPadding":7}},
"y":{"field":"o","type":"quantitative","scale":{"domain":[-19,8.3],"nice":false,"zero":false},"axis":{"orient":"right","values":[5,0,-5,-10,-15],"title":"δ¹⁸O [‰]","titleAngle":270,"titleColor":"#2a2aa8","labelColor":"#2a2aa8","domainColor":"#a8a8e8","tickColor":"#a8a8e8","labelFontSize":11.5,"titleFontSize":13,"tickSize":-3,"labelPadding":6,"titlePadding":16}}}},
{"data":{"name":"la"},"mark":{"type":"line","color":"#a80000","strokeWidth":1.8,"point":{"filled":true,"size":4,"color":"#a80000"}},
"encoding":{"x":{"field":"d","type":"temporal","title":null,"scale":{"domain":[{"year":2007,"month":6,"date":1},{"year":2009,"month":5,"date":2}]},"axis":{"format":"%b %y","labelFontSize":11,"labelColor":"#333","domainColor":"#999","tickColor":"#999","tickSize":-3,"labelPadding":7}},
"y":{"field":"h","type":"quantitative","scale":{"domain":[-208,13.5],"nice":false,"zero":false},"axis":null},"detail":{"field":"s"}}},
{"data":{"name":"la"},"mark":{"type":"line","color":"#0000a0","strokeWidth":1.8,"point":{"filled":true,"size":4,"color":"#0000a0"}},
"encoding":{"x":{"field":"d","type":"temporal","title":null,"scale":{"domain":[{"year":2007,"month":6,"date":1},{"year":2009,"month":5,"date":2}]},"axis":{"format":"%b %y","labelFontSize":11,"labelColor":"#333","domainColor":"#999","tickColor":"#999","tickSize":-3,"labelPadding":7}},
"y":{"field":"o","type":"quantitative","scale":{"domain":[-19,8.3],"nice":false,"zero":false},"axis":null},"detail":{"field":"s"}}},
{"data":{"name":"lab"},"transform":[{"filter":"datum.p=='a'"}],"mark":{"type":"text","align":"left","baseline":"alphabetic","fontSize":12,"color":"#111"},
"encoding":{"x":{"field":"d1","type":"temporal","title":null,"scale":{"domain":[{"year":2007,"month":6,"date":1},{"year":2009,"month":5,"date":2}]},"axis":{"format":"%b %y","labelFontSize":11,"labelColor":"#333","domainColor":"#999","tickColor":"#999","tickSize":-3,"labelPadding":7}},
"y":{"field":"y","type":"quantitative","scale":{"domain":[-208,13.5],"nice":false,"zero":false},"axis":null},"text":{"field":"k"}}},
{"data":{"name":"lab"},"transform":[{"filter":"datum.p=='a'"}],"mark":{"type":"text","align":"left","baseline":"alphabetic","fontSize":11.5,"fontWeight":"bold","color":"#111"},
"encoding":{"x":{"field":"d2","type":"temporal","title":null,"scale":{"domain":[{"year":2007,"month":6,"date":1},{"year":2009,"month":5,"date":2}]},"axis":{"format":"%b %y","labelFontSize":11,"labelColor":"#333","domainColor":"#999","tickColor":"#999","tickSize":-3,"labelPadding":7}},
"y":{"field":"y","type":"quantitative","scale":{"domain":[-208,13.5],"nice":false,"zero":false},"axis":null},"text":{"field":"t"}}}
]
},
{
"width":407,"height":80,
"resolve":{"scale":{"y":"independent"}},
"layer":[
{"data":{"name":"rw"},"mark":{"type":"circle","size":26,"color":"#fdc48c","opacity":0.9},
"encoding":{"x":{"field":"d","type":"temporal","title":null,"scale":{"domain":[{"year":2004,"month":8,"date":28},{"year":2009,"month":5,"date":3}]},"axis":{"format":"%b %y","tickCount":{"interval":"year","step":1},"labelFontSize":11,"labelColor":"#333","domainColor":"#999","tickColor":"#999","tickSize":-3,"labelPadding":7}},
"y":{"field":"h","type":"quantitative","scale":{"domain":[-178,12],"nice":false,"zero":false},"axis":{"values":[0,-50,-100,-150],"title":"δ²H [‰]","titleColor":"#c0282a","labelColor":"#c0282a","domainColor":"#eaa4a4","tickColor":"#eaa4a4","labelFontSize":11.5,"titleFontSize":13,"tickSize":-3,"labelPadding":7,"titlePadding":2}}}},
{"data":{"name":"rw"},"mark":{"type":"circle","size":26,"color":"#8cc4f7","opacity":0.9},
"encoding":{"x":{"field":"d","type":"temporal","title":null,"scale":{"domain":[{"year":2004,"month":8,"date":28},{"year":2009,"month":5,"date":3}]},"axis":{"format":"%b %y","tickCount":{"interval":"year","step":1},"labelFontSize":11,"labelColor":"#333","domainColor":"#999","tickColor":"#999","tickSize":-3,"labelPadding":7}},
"y":{"field":"o","type":"quantitative","scale":{"domain":[-15,8.1],"nice":false,"zero":false},"axis":{"orient":"right","values":[5,0,-5,-10,-15],"title":"δ¹⁸O [‰]","titleAngle":270,"titleColor":"#2a2aa8","labelColor":"#2a2aa8","domainColor":"#a8a8e8","tickColor":"#a8a8e8","labelFontSize":11.5,"titleFontSize":13,"tickSize":-3,"labelPadding":6,"titlePadding":16}}}},
{"data":{"name":"lw"},"mark":{"type":"line","color":"#a80000","strokeWidth":1.2,"point":{"filled":true,"size":5,"color":"#a80000"}},
"encoding":{"x":{"field":"d","type":"temporal","title":null,"scale":{"domain":[{"year":2004,"month":8,"date":28},{"year":2009,"month":5,"date":3}]},"axis":{"format":"%b %y","tickCount":{"interval":"year","step":1},"labelFontSize":11,"labelColor":"#333","domainColor":"#999","tickColor":"#999","tickSize":-3,"labelPadding":7}},
"y":{"field":"hb","type":"quantitative","scale":{"domain":[-178,12],"nice":false,"zero":false},"axis":null}}},
{"data":{"name":"lw"},"mark":{"type":"line","color":"#0000a0","strokeWidth":1.2,"point":{"filled":true,"size":5,"color":"#0000a0"}},
"encoding":{"x":{"field":"d","type":"temporal","title":null,"scale":{"domain":[{"year":2004,"month":8,"date":28},{"year":2009,"month":5,"date":3}]},"axis":{"format":"%b %y","tickCount":{"interval":"year","step":1},"labelFontSize":11,"labelColor":"#333","domainColor":"#999","tickColor":"#999","tickSize":-3,"labelPadding":7}},
"y":{"field":"ob","type":"quantitative","scale":{"domain":[-15,8.1],"nice":false,"zero":false},"axis":null}}},
{"data":{"name":"box"},"mark":{"type":"rect","fillOpacity":0,"stroke":"#222","strokeWidth":1.5},
"encoding":{"x":{"field":"d1","type":"temporal","title":null,"scale":{"domain":[{"year":2004,"month":8,"date":28},{"year":2009,"month":5,"date":3}]},"axis":{"format":"%b %y","tickCount":{"interval":"year","step":1},"labelFontSize":11,"labelColor":"#333","domainColor":"#999","tickColor":"#999","tickSize":-3,"labelPadding":7}},"x2":{"field":"d2"},
"y":{"field":"y1b","type":"quantitative","scale":{"domain":[-178,12],"nice":false,"zero":false},"axis":null},"y2":{"field":"y2b"}}},
{"data":{"name":"lab"},"transform":[{"filter":"datum.p=='b'"}],"mark":{"type":"text","align":"left","baseline":"alphabetic","fontSize":12,"color":"#111"},
"encoding":{"x":{"field":"d1","type":"temporal","title":null,"scale":{"domain":[{"year":2004,"month":8,"date":28},{"year":2009,"month":5,"date":3}]},"axis":{"format":"%b %y","tickCount":{"interval":"year","step":1},"labelFontSize":11,"labelColor":"#333","domainColor":"#999","tickColor":"#999","tickSize":-3,"labelPadding":7}},
"y":{"field":"y","type":"quantitative","scale":{"domain":[-178,12],"nice":false,"zero":false},"axis":null},"text":{"field":"k"}}},
{"data":{"name":"lab"},"transform":[{"filter":"datum.p=='b'"}],"mark":{"type":"text","align":"left","baseline":"alphabetic","fontSize":11.5,"fontWeight":"bold","color":"#111"},
"encoding":{"x":{"field":"d2","type":"temporal","title":null,"scale":{"domain":[{"year":2004,"month":8,"date":28},{"year":2009,"month":5,"date":3}]},"axis":{"format":"%b %y","tickCount":{"interval":"year","step":1},"labelFontSize":11,"labelColor":"#333","domainColor":"#999","tickColor":"#999","tickSize":-3,"labelPadding":7}},
"y":{"field":"y","type":"quantitative","scale":{"domain":[-178,12],"nice":false,"zero":false},"axis":null},"text":{"field":"t"}}}
]
},
{
"width":407,"height":80,
"resolve":{"scale":{"y":"independent"}},
"layer":[
{"data":{"name":"rw"},"mark":{"type":"circle","size":26,"color":"#fdc48c","opacity":0.9},
"encoding":{"x":{"field":"d","type":"temporal","title":null,"scale":{"domain":[{"year":2004,"month":8,"date":28},{"year":2009,"month":5,"date":3}]},"axis":{"format":"%b %y","tickCount":{"interval":"year","step":1},"labelFontSize":11,"labelColor":"#333","domainColor":"#999","tickColor":"#999","tickSize":-3,"labelPadding":7}},
"y":{"field":"h","type":"quantitative","scale":{"domain":[-178,10],"nice":false,"zero":false},"axis":{"values":[0,-50,-100,-150],"title":"δ²H [‰]","titleColor":"#c0282a","labelColor":"#c0282a","domainColor":"#eaa4a4","tickColor":"#eaa4a4","labelFontSize":11.5,"titleFontSize":13,"tickSize":-3,"labelPadding":7,"titlePadding":2}}}},
{"data":{"name":"rw"},"mark":{"type":"circle","size":26,"color":"#8cc4f7","opacity":0.9},
"encoding":{"x":{"field":"d","type":"temporal","title":null,"scale":{"domain":[{"year":2004,"month":8,"date":28},{"year":2009,"month":5,"date":3}]},"axis":{"format":"%b %y","tickCount":{"interval":"year","step":1},"labelFontSize":11,"labelColor":"#333","domainColor":"#999","tickColor":"#999","tickSize":-3,"labelPadding":7}},
"y":{"field":"o","type":"quantitative","scale":{"domain":[-15.5,8.2],"nice":false,"zero":false},"axis":{"orient":"right","values":[5,0,-5,-10,-15],"title":"δ¹⁸O [‰]","titleAngle":270,"titleColor":"#2a2aa8","labelColor":"#2a2aa8","domainColor":"#a8a8e8","tickColor":"#a8a8e8","labelFontSize":11.5,"titleFontSize":13,"tickSize":-3,"labelPadding":6,"titlePadding":16}}}},
{"data":{"name":"lw"},"mark":{"type":"line","color":"#a80000","strokeWidth":1.2,"point":{"filled":true,"size":5,"color":"#a80000"}},
"encoding":{"x":{"field":"d","type":"temporal","title":null,"scale":{"domain":[{"year":2004,"month":8,"date":28},{"year":2009,"month":5,"date":3}]},"axis":{"format":"%b %y","tickCount":{"interval":"year","step":1},"labelFontSize":11,"labelColor":"#333","domainColor":"#999","tickColor":"#999","tickSize":-3,"labelPadding":7}},
"y":{"field":"hc","type":"quantitative","scale":{"domain":[-178,10],"nice":false,"zero":false},"axis":null}}},
{"data":{"name":"lw"},"mark":{"type":"line","color":"#0000a0","strokeWidth":1.2,"point":{"filled":true,"size":5,"color":"#0000a0"}},
"encoding":{"x":{"field":"d","type":"temporal","title":null,"scale":{"domain":[{"year":2004,"month":8,"date":28},{"year":2009,"month":5,"date":3}]},"axis":{"format":"%b %y","tickCount":{"interval":"year","step":1},"labelFontSize":11,"labelColor":"#333","domainColor":"#999","tickColor":"#999","tickSize":-3,"labelPadding":7}},
"y":{"field":"oc","type":"quantitative","scale":{"domain":[-15.5,8.2],"nice":false,"zero":false},"axis":null}}},
{"data":{"name":"box"},"mark":{"type":"rect","fillOpacity":0,"stroke":"#222","strokeWidth":1.5},
"encoding":{"x":{"field":"d1","type":"temporal","title":null,"scale":{"domain":[{"year":2004,"month":8,"date":28},{"year":2009,"month":5,"date":3}]},"axis":{"format":"%b %y","tickCount":{"interval":"year","step":1},"labelFontSize":11,"labelColor":"#333","domainColor":"#999","tickColor":"#999","tickSize":-3,"labelPadding":7}},"x2":{"field":"d2"},
"y":{"field":"y1c","type":"quantitative","scale":{"domain":[-178,10],"nice":false,"zero":false},"axis":null},"y2":{"field":"y2c"}}},
{"data":{"name":"lab"},"transform":[{"filter":"datum.p=='c'"}],"mark":{"type":"text","align":"left","baseline":"alphabetic","fontSize":12,"color":"#111"},
"encoding":{"x":{"field":"d1","type":"temporal","title":null,"scale":{"domain":[{"year":2004,"month":8,"date":28},{"year":2009,"month":5,"date":3}]},"axis":{"format":"%b %y","tickCount":{"interval":"year","step":1},"labelFontSize":11,"labelColor":"#333","domainColor":"#999","tickColor":"#999","tickSize":-3,"labelPadding":7}},
"y":{"field":"y","type":"quantitative","scale":{"domain":[-178,10],"nice":false,"zero":false},"axis":null},"text":{"field":"k"}}},
{"data":{"name":"lab"},"transform":[{"filter":"datum.p=='c'"}],"mark":{"type":"text","align":"left","baseline":"alphabetic","fontSize":11.5,"fontWeight":"bold","color":"#111"},
"encoding":{"x":{"field":"d2","type":"temporal","title":null,"scale":{"domain":[{"year":2004,"month":8,"date":28},{"year":2009,"month":5,"date":3}]},"axis":{"format":"%b %y","tickCount":{"interval":"year","step":1},"labelFontSize":11,"labelColor":"#333","domainColor":"#999","tickColor":"#999","tickSize":-3,"labelPadding":7}},
"y":{"field":"y","type":"quantitative","scale":{"domain":[-178,10],"nice":false,"zero":false},"axis":null},"text":{"field":"t"}}}
]
}
]
}
